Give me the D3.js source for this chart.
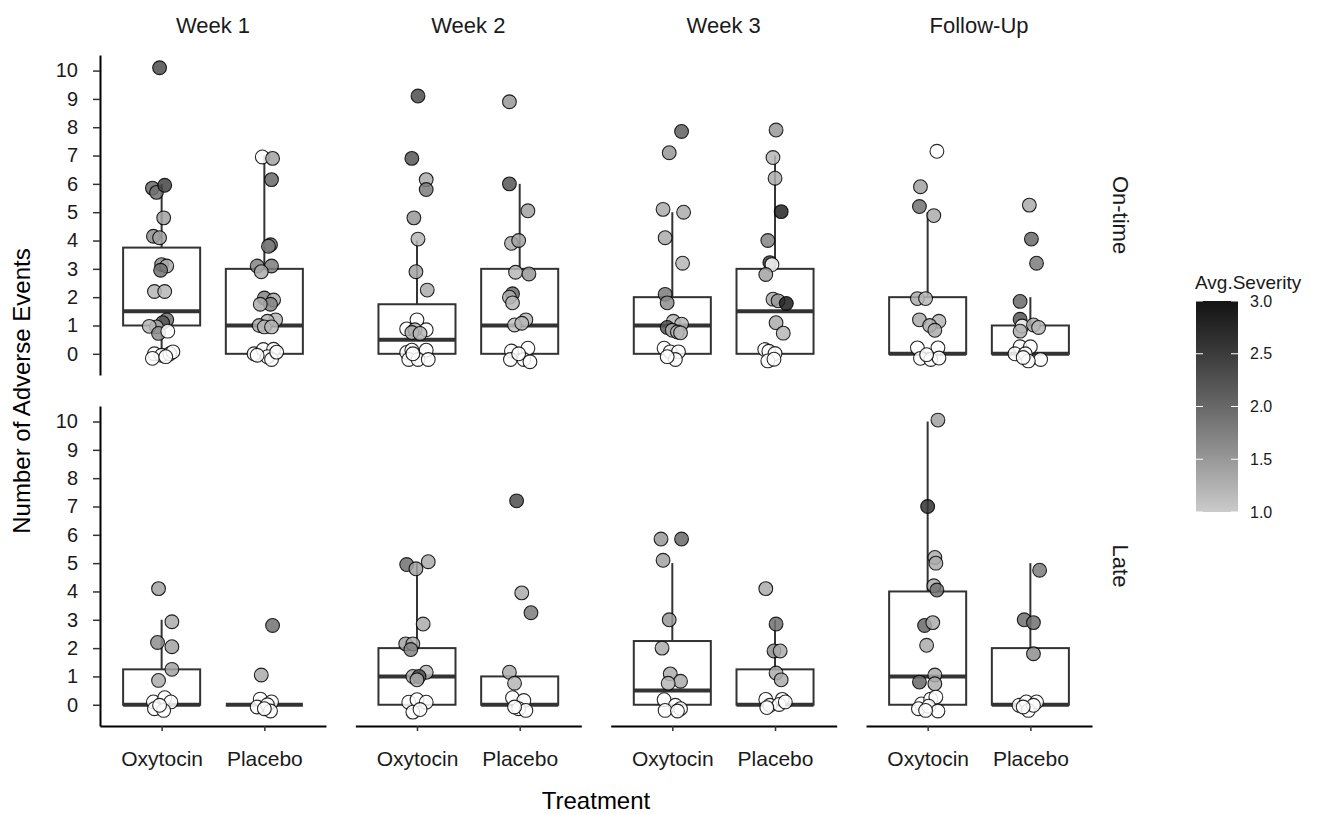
<!DOCTYPE html>
<html>
<head>
<meta charset="utf-8">
<script src="https://cdn.jsdelivr.net/npm/d3@7"></script>
<style>
  body { margin: 0; background: #fff; }
  text { font-family: "Liberation Sans", Arial, Helvetica, sans-serif; }
</style>
</head>
<body>
<svg id="chart" width="1321" height="814"></svg>
<script>

var weeks = ["Week 1", "Week 2", "Week 3", "Follow-Up"];
var timings = ["On-time", "Late"];
var treatments = ["Oxytocin", "Placebo"];
var yTicks = [0, 1, 2, 3, 4, 5, 6, 7, 8, 9, 10];
var severityTicks = [1.0, 1.5, 2.0, 2.5, 3.0];

// box stats, order: timing -> week -> treatment
var boxLow  = [0, 0, 0, 0, 0, 0, 0, 0,   0, 0, 0, 0, 0, 0, 0, 0];
var boxQ1   = [1, 0, 0, 0, 0, 0, 0, 0,   0, 0, 0, 0, 0, 0, 0, 0];
var boxMed  = [1.5, 1, 0.5, 1, 1, 1.5, 0, 0,   0, 0, 1, 0, 0.5, 0, 1, 0];
var boxQ3   = [3.75, 3, 1.75, 3, 2, 3, 2, 1,   1.25, 0, 2, 1, 2.25, 1.25, 4, 2];
var boxHigh = [6, 7, 4, 6, 5, 7, 5, 2,   3, 0, 5, 1, 5, 3, 10, 5];

// points: [jitter (category units), events, avg severity (null = none)]
var onW1Oxy = [[-0.02,10.1,2.3],[-0.09,5.85,2.0],[-0.05,5.7,1.9],[0.03,5.95,2.4],[0.02,4.8,1.4],[-0.08,4.15,1.6],[-0.02,4.1,1.4],[0.0,3.15,1.6],[0.05,3.1,1.3],[-0.01,2.95,1.9],[-0.07,2.2,1.2],[0.03,2.2,1.2],[0.05,1.2,1.9],[0.01,1.1,2.2],[-0.05,0.95,1.3],[-0.12,0.97,1.2],[-0.03,0.72,1.6],[0.06,0.8,null],[-0.07,0.0,null],[0.0,-0.05,null],[0.08,0.0,null],[-0.09,-0.16,null],[0.11,0.07,null],[0.04,-0.1,null]];
var onW1Pla = [[-0.02,6.95,null],[0.08,6.9,1.4],[0.07,6.15,2.0],[0.06,3.85,1.9],[0.04,3.8,1.8],[-0.07,3.1,1.7],[0.07,3.1,1.8],[-0.03,2.9,1.3],[0.0,1.97,1.7],[0.09,1.9,1.3],[0.06,1.75,1.7],[-0.04,1.75,1.3],[0.11,1.2,1.2],[0.03,1.15,1.2],[-0.05,1.0,1.3],[0.0,0.95,1.2],[0.07,0.95,1.2],[-0.1,0.0,null],[-0.01,0.15,null],[0.09,0.16,null],[0.03,-0.1,null],[0.07,-0.2,null],[0.12,0.06,null],[-0.07,-0.05,null]];
var onW2Oxy = [[0.01,9.1,2.3],[-0.05,6.9,2.2],[0.09,6.15,1.3],[0.09,5.8,1.8],[-0.03,4.8,1.5],[0.01,4.05,1.2],[-0.01,2.9,1.4],[0.1,2.25,1.3],[0.0,1.2,null],[-0.1,0.88,null],[0.09,0.85,null],[-0.02,0.85,1.2],[-0.05,0.75,1.3],[0.03,0.72,1.2],[-0.1,0.05,null],[-0.05,0.13,null],[0.09,0.13,null],[-0.08,-0.2,null],[0.01,-0.2,null],[0.11,-0.2,null],[-0.04,0.0,null]];
var onW2Pla = [[-0.1,8.9,1.5],[-0.1,6.0,2.2],[0.08,5.05,1.4],[-0.08,3.9,1.3],[-0.01,4.0,1.4],[-0.04,2.88,1.2],[0.09,2.82,1.5],[-0.07,2.12,2.0],[-0.1,2.0,1.3],[-0.07,1.8,1.2],[0.06,1.2,1.2],[-0.05,1.02,1.1],[0.02,1.08,1.2],[-0.08,0.1,null],[0.08,0.2,null],[-0.09,-0.2,null],[0.04,-0.2,null],[0.1,-0.28,null],[-0.01,0.0,null]];
var onW3Oxy = [[0.09,7.85,2.1],[-0.03,7.1,1.5],[-0.09,5.1,1.3],[0.11,5.0,1.3],[-0.07,4.1,1.3],[0.1,3.2,1.2],[-0.07,2.1,1.8],[-0.05,1.8,1.6],[0.01,1.15,1.2],[0.09,1.05,1.2],[-0.05,0.93,2.2],[0.0,0.83,1.3],[0.05,0.77,1.2],[0.08,0.74,1.2],[-0.08,0.2,null],[-0.02,0.07,null],[0.06,0.07,null],[0.03,-0.2,null],[-0.05,-0.1,null]];
var onW3Pla = [[0.01,7.9,1.5],[-0.02,6.93,1.2],[0.0,6.2,1.3],[0.06,5.02,2.8],[-0.07,4.0,1.7],[-0.05,3.22,2.5],[-0.03,3.15,null],[-0.09,2.8,1.4],[-0.02,1.93,1.3],[0.03,1.87,1.5],[0.11,1.78,2.9],[0.01,1.1,1.3],[0.08,0.73,1.2],[-0.1,0.15,null],[-0.06,0.09,null],[0.0,0.01,null],[-0.07,-0.25,null],[-0.01,-0.19,null]];
var onFUOxy = [[0.09,7.15,null],[-0.07,5.9,1.4],[-0.08,5.2,1.9],[0.06,4.88,1.3],[-0.1,1.95,1.3],[-0.02,1.95,1.2],[-0.08,1.2,1.3],[0.11,1.15,1.2],[0.02,1.0,1.3],[0.07,0.83,1.3],[-0.1,0.21,null],[0.1,0.21,null],[-0.07,-0.16,null],[0.03,-0.2,null],[0.11,-0.15,null],[-0.01,-0.03,null]];
var onFUPla = [[-0.01,5.25,1.3],[0.01,4.05,2.0],[0.06,3.2,1.8],[-0.1,1.85,2.0],[-0.1,1.22,2.2],[-0.08,0.98,null],[0.03,1.02,1.3],[0.08,0.93,1.2],[-0.1,0.8,1.3],[-0.1,0.25,null],[0.0,0.25,null],[-0.15,0.0,null],[-0.05,0.0,null],[0.1,-0.2,null],[-0.02,-0.25,null],[-0.07,-0.13,null]];

var lateW1Oxy = [[-0.03,4.1,1.4],[0.1,2.93,1.3],[-0.04,2.2,1.6],[0.1,2.05,1.4],[0.1,1.25,1.4],[-0.03,0.86,1.3],[-0.08,0.1,null],[0.03,0.25,null],[0.09,0.1,null],[-0.07,-0.14,null],[0.02,-0.2,null],[-0.02,-0.02,null]];
var lateW1Pla = [[0.08,2.8,1.9],[-0.03,1.05,1.3],[-0.04,0.2,null],[0.07,0.1,null],[-0.07,-0.08,null],[0.03,0.0,null],[0.06,-0.22,null],[0.0,-0.14,null]];
var lateW2Oxy = [[-0.1,4.95,1.9],[-0.01,4.8,1.4],[0.11,5.05,1.3],[0.06,2.85,1.3],[-0.11,2.15,1.4],[-0.04,2.15,1.3],[-0.06,1.95,1.7],[-0.04,1.0,1.3],[0.09,1.15,1.2],[0.02,1.0,2.3],[0.0,0.88,1.3],[-0.08,0.09,null],[0.0,0.18,null],[0.09,0.09,null],[-0.04,-0.26,null],[0.03,-0.17,null]];
var lateW2Pla = [[-0.03,7.2,2.3],[0.02,3.95,1.3],[0.11,3.25,1.8],[-0.1,1.15,1.3],[-0.05,0.76,1.2],[-0.07,0.25,null],[0.04,0.15,null],[-0.01,-0.14,null],[0.06,-0.2,null],[-0.05,-0.08,null]];
var lateW3Oxy = [[-0.11,5.85,1.5],[0.09,5.85,2.0],[-0.09,5.1,1.4],[-0.03,3.0,1.5],[-0.1,2.0,1.3],[-0.02,1.09,1.3],[0.08,0.83,1.3],[-0.04,0.76,1.2],[-0.08,0.18,null],[0.03,-0.02,null],[-0.07,-0.2,null],[0.08,-0.14,null],[0.05,-0.22,null]];
var lateW3Pla = [[-0.09,4.1,1.3],[0.01,2.85,1.9],[-0.01,1.9,1.6],[0.05,1.9,1.3],[0.01,1.12,1.3],[0.06,0.88,1.3],[-0.09,0.19,null],[0.07,0.19,null],[-0.05,-0.02,null],[0.04,0.01,null],[-0.08,-0.1,null],[0.1,0.1,null]];
var lateFUOxy = [[0.1,10.05,1.4],[0.0,7.0,2.6],[0.07,5.2,1.3],[0.08,5.0,1.3],[0.06,4.2,1.3],[0.09,4.05,1.9],[-0.03,2.8,2.0],[0.05,2.9,1.3],[-0.01,2.1,1.3],[0.07,1.05,1.3],[-0.08,0.8,2.0],[0.07,0.74,1.3],[-0.06,0.03,null],[0.03,0.2,null],[0.08,0.27,null],[-0.09,-0.14,null],[0.01,-0.05,null],[0.1,-0.22,null],[-0.02,-0.2,null]];
var lateFUPla = [[0.09,4.75,1.8],[-0.06,3.0,1.9],[0.03,2.9,1.9],[0.03,1.8,1.6],[-0.11,-0.02,null],[-0.04,0.1,null],[0.06,0.1,null],[-0.02,-0.2,null],[0.03,-0.02,null],[-0.07,-0.08,null]];

var groupPoints = [onW1Oxy, onW1Pla, onW2Oxy, onW2Pla, onW3Oxy, onW3Pla, onFUOxy, onFUPla,
                   lateW1Oxy, lateW1Pla, lateW2Oxy, lateW2Pla, lateW3Oxy, lateW3Pla, lateFUOxy, lateFUPla];

var svg = d3.select("#chart");

var col = d3.scaleBand().domain(weeks).range([100, 1092]).paddingInner(0.115);
var row = d3.scaleBand().domain(timings).range([55, 726]).paddingInner(0.088);

var x = d3.scalePoint().domain(treatments).range([0, col.bandwidth()]).padding(0.6);
var y = d3.scaleLinear().domain([-0.75, 10.55]).range([row.bandwidth(), 0]);

var fill = d3.scaleLinear().domain([1, 3]).range(["#cbcbcb", "#141414"])
  .interpolate(d3.interpolateLab).clamp(true);

var boxW = x.step() * 0.75;

timings.forEach(function(t, ti) {
  weeks.forEach(function(w, wi) {
    var g = svg.append("g")
      .attr("transform", "translate(" + col(w) + "," + row(t) + ")");

    treatments.forEach(function(tr, ki) {
      var idx = ti * 8 + wi * 2 + ki;
      var cx = x(tr);

      // whiskers
      g.append("line")
        .attr("x1", cx).attr("x2", cx)
        .attr("y1", y(boxQ3[idx])).attr("y2", y(boxHigh[idx]))
        .attr("stroke", "#333").attr("stroke-width", 2);
      g.append("line")
        .attr("x1", cx).attr("x2", cx)
        .attr("y1", y(boxQ1[idx])).attr("y2", y(boxLow[idx]))
        .attr("stroke", "#333").attr("stroke-width", 2);

      g.append("rect")
        .attr("x", cx - boxW / 2)
        .attr("y", y(boxQ3[idx]))
        .attr("width", boxW)
        .attr("height", y(boxQ1[idx]) - y(boxQ3[idx]))
        .attr("fill", "white")
        .attr("stroke", "#333").attr("stroke-width", 2);

      g.append("line")
        .attr("x1", cx - boxW / 2).attr("x2", cx + boxW / 2)
        .attr("y1", y(boxMed[idx])).attr("y2", y(boxMed[idx]))
        .attr("stroke", "#333").attr("stroke-width", 4);

      g.selectAll("circle.p" + ki)
        .data(groupPoints[idx])
        .enter().append("circle")
        .attr("class", "p" + ki)
        .attr("cx", function(d) { return cx + d[0] * x.step(); })
        .attr("cy", function(d) { return y(d[1]); })
        .attr("r", 6.9)
        .attr("fill", function(d) { return d[2] == null ? "white" : fill(d[2]); })
        .attr("fill-opacity", 0.85)
        .attr("stroke", "black")
        .attr("stroke-opacity", 0.85)
        .attr("stroke-width", 1.1);
    });

    // y axis only on the first column
    if (wi == 0) {
      var ya = g.append("g")
        .call(d3.axisLeft(y).tickValues(yTicks).tickSize(7).tickSizeOuter(0).tickPadding(15));
      ya.select(".domain").attr("stroke", "black").attr("stroke-width", 2);
      ya.selectAll(".tick line").attr("stroke", "#333").attr("stroke-width", 1.5);
      ya.selectAll(".tick text").attr("font-size", 20).attr("fill", "#1a1a1a")
        .attr("font-family", "'Liberation Sans', Arial, sans-serif");
    }

    // x axis only on bottom row
    if (ti == 1) {
      var xa = g.append("g")
        .attr("transform", "translate(0," + row.bandwidth() + ")")
        .call(d3.axisBottom(x).tickSize(5).tickSizeOuter(0).tickPadding(20));
      xa.select(".domain").attr("stroke", "black").attr("stroke-width", 2);
      xa.selectAll(".tick line").attr("stroke", "#333").attr("stroke-width", 1.5);
      xa.selectAll(".tick text").attr("font-size", 21).attr("fill", "#1a1a1a")
        .attr("font-family", "'Liberation Sans', Arial, sans-serif");
    }

    // column strip
    if (ti == 0) {
      svg.append("text")
        .attr("x", col(w) + col.bandwidth() / 2)
        .attr("y", 33)
        .attr("text-anchor", "middle")
        .attr("font-size", 22)
        .attr("fill", "#1a1a1a")
        .text(w);
    }
  });

  // row strip
  var cy = row(t) + row.bandwidth() / 2;
  svg.append("text")
    .attr("transform", "translate(1113," + cy + ") rotate(90)")
    .attr("text-anchor", "middle")
    .attr("font-size", 22)
    .attr("fill", "#1a1a1a")
    .text(t);
});

// axis titles
svg.append("text")
  .attr("x", 596).attr("y", 809)
  .attr("text-anchor", "middle")
  .attr("font-size", 24)
  .text("Treatment");

svg.append("text")
  .attr("transform", "translate(30,391) rotate(-90)")
  .attr("text-anchor", "middle")
  .attr("font-size", 24)
  .text("Number of Adverse Events");

// legend
var legY = d3.scaleLinear().domain([1, 3]).range([512, 301]);
var defs = svg.append("defs");
var grad = defs.append("linearGradient")
  .attr("id", "sevgrad")
  .attr("x1", 0).attr("y1", 1).attr("x2", 0).attr("y2", 0);
d3.range(0, 1.01, 0.1).forEach(function(s) {
  grad.append("stop")
    .attr("offset", s)
    .attr("stop-color", fill(1 + s * 2));
});

var leg = svg.append("g");
leg.append("text")
  .attr("x", 1195).attr("y", 289)
  .attr("font-size", 19)
  .attr("fill", "#1a1a1a")
  .text("Avg.Severity");

leg.append("rect")
  .attr("x", 1196).attr("y", legY(3))
  .attr("width", 42).attr("height", legY(1) - legY(3))
  .attr("fill", "url(#sevgrad)");

severityTicks.forEach(function(v) {
  leg.append("line")
    .attr("x1", 1196).attr("x2", 1203)
    .attr("y1", legY(v)).attr("y2", legY(v))
    .attr("stroke", "white").attr("stroke-width", 1);
  leg.append("line")
    .attr("x1", 1231).attr("x2", 1238)
    .attr("y1", legY(v)).attr("y2", legY(v))
    .attr("stroke", "white").attr("stroke-width", 1);
  leg.append("text")
    .attr("x", 1250).attr("y", legY(v))
    .attr("dy", "0.35em")
    .attr("font-size", 16)
    .attr("fill", "#1a1a1a")
    .text(d3.format(".1f")(v));
});

</script>
</body>
</html>
